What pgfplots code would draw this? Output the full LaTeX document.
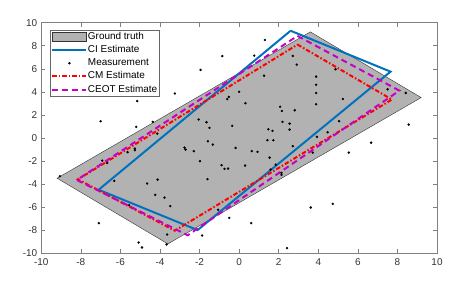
\documentclass[border=0pt]{standalone}
\usepackage{fontspec}
\setmainfont{Liberation Sans}
\usepackage{pgfplots}
\pgfplotsset{compat=1.18}
\definecolor{ciblue}{rgb}{0,0.447,0.741}
\definecolor{gtgray}{rgb}{0.7,0.7,0.7}
\definecolor{ceot}{rgb}{0.78,0,0.78}
\pgfplotsset{gtlegend/.style={legend image code/.code={\draw[##1] (0bp,-4.5bp) rectangle (34bp,4.5bp);}},
  linelegend/.style={legend image code/.code={\draw[##1] (0bp,0bp) -- (34bp,0bp);}},
  marklegend/.style={legend image code/.code={\draw[##1] plot coordinates {(17bp,0bp)};}}}
\begin{document}
\begin{tikzpicture}
\begin{axis}[
  scale only axis, width=396bp, height=230.6bp,
  xmin=-10, xmax=10, ymin=-10, ymax=10,
  xtick={-10,-8,...,10}, ytick={-10,-8,...,10},
  tick align=inside, major tick length=4bp,
  axis line style={black!50, line width=0.6bp},
  tick style={black!50, line width=0.5bp},
  ticklabel style={font=\fontsize{10}{11}\selectfont, text=black!80},
  xticklabel style={yshift=-1.5bp},
  yticklabel style={xshift=-0.5bp},
  /pgf/number format/assume math mode=true,
  legend style={at={(0,1)}, anchor=north west, xshift=8.7bp, yshift=-7.3bp,
    font=\fontsize{10}{11}\selectfont, draw=black!60, line width=0.5bp,
    inner sep=1.2bp, row sep=2.4bp, fill=white,
    nodes={inner sep=0.6bp, text height=7.4bp, text depth=2.2bp}},
  legend cell align=left,
]
\addplot[fill=gtgray, draw=black!80, line width=0.4bp, gtlegend]
  coordinates {(-9.2,-3.5) (-3.6,-9.2) (9.2,3.5) (3.6,9.2)} -- cycle;
\addlegendentry{Ground truth}
\addplot[ciblue, line width=2bp, mark=none, linelegend]
  coordinates {(2.6,9.3) (7.65,5.75) (-2.1,-8.0) (-7.1,-4.5) (2.6,9.3)};
\addlegendentry{CI Estimate}
\addplot[only marks, mark=*, mark size=1bp, black, marklegend]
  coordinates {
(-5.15,3.2) (-7.0,1.45) (-5.2,0.95) (-0.85,7.1) (-1.95,5.9) (-3.25,3.85)
(0.0,4.0) (-0.52,3.56) (-0.6,3.36) (-2.05,1.6) (-1.65,1.36) (-1.5,0.87)
(-0.35,1.04) (-4.37,1.39) (-4.14,0.37) (1.3,8.5) (0.76,7.14) (2.71,7.11)
(2.91,6.36) (4.87,5.96) (1.26,5.4) (3.89,5.32) (3.89,4.62) (3.89,3.9)
(3.89,2.92) (0.32,3.01) (2.07,2.71) (2.16,2.34) (2.81,2.4) (2.19,1.39)
(2.55,1.24) (1.48,0.75) (1.69,0.61) (2.55,0.72) (3.93,0.09) (4.47,0.49)
(1.43,-0.2) (1.73,-0.2) (7.5,4.22) (8.42,3.9) (5.24,3.38) (5.05,1.45)
(8.57,1.16) (-9.06,-3.32) (-6.92,-1.97) (-6.67,-2.17) (-5.64,-1.24)
(-5.27,-0.93) (-5.27,-1.07) (-6.31,-3.73) (-7.09,-7.4) (-5.08,-9.08)
(-5.56,-5.84) (-2.76,-0.84) (-2.71,-1.01) (-2.29,-1.15) (-1.58,-0.29)
(-1.33,-0.58) (-0.18,-0.87) (-1.98,-2.02) (-0.89,-2.37) (-0.74,-2.69)
(-0.56,-2.66) (-4.12,-3.62) (-4.65,-3.96) (-1.6,-3.58) (-4.24,-4.94)
(-3.77,-5.18) (-3.48,-5.92) (-1.06,-6.24) (-0.5,-6.94) (-1.87,-8.47)
(-3.64,-8.39) (-3.67,-9.25) (-4.91,-9.51) (2.71,-0.72) (0.64,-1.15)
(0.93,-1.21) (1.54,-1.71) (0.3,-2.4) (1.85,-2.32) (1.59,-2.75)
(2.14,-3.04) (2.14,-3.21) (3.72,-1.27) (3.62,-6.04) (4.73,-5.72)
(0.61,-7.4) (2.42,-9.57) (6.67,-0.41) (5.54,-1.27)
};
\addlegendentry{Measurement}
\addplot[red, line width=2bp, mark=none, dash pattern=on 4.5bp off 2bp on 1.5bp off 2bp, linelegend]
  coordinates {(2.95,8.1) (7.72,3.33) (-3.25,-8.05) (-8.15,-3.6) (2.95,8.1)};
\addlegendentry{CM Estimate}
\addplot[ceot, line width=2bp, mark=none, dash pattern=on 6bp off 4bp, linelegend]
  coordinates {(2.95,8.85) (8.1,4.1) (-2.6,-8.45) (-8.2,-3.65) (2.95,8.85)};
\addlegendentry{CEOT Estimate}
\end{axis}
\path[use as bounding box] ([xshift=-41.3bp,yshift=-38bp]current axis.south west) rectangle ([xshift=20bp,yshift=22.7bp]current axis.north east);
\end{tikzpicture}
\end{document}
